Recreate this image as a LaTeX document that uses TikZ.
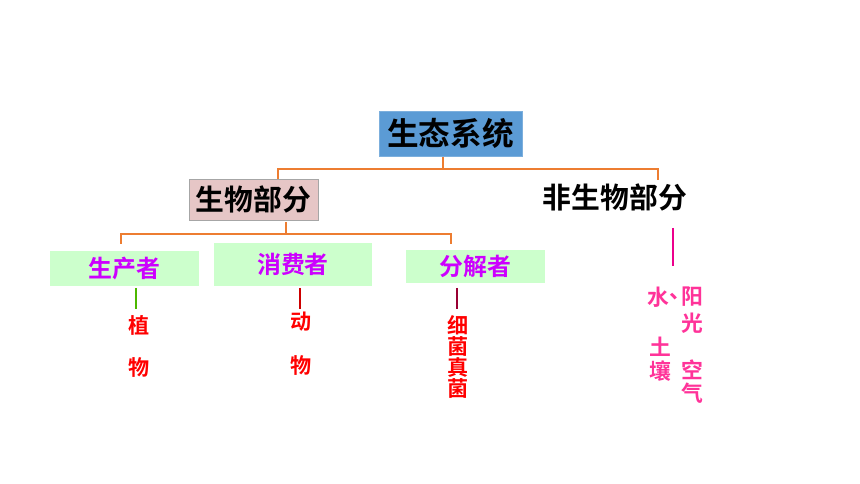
\documentclass[tikz,border=0pt]{standalone}
\usepackage{fontspec}
\setmainfont{Noto Sans CJK SC}[BoldFont={Noto Sans CJK SC Bold}]
\usetikzlibrary{calc}
\definecolor{ecoblue}{HTML}{5B9BD5}
\definecolor{linkorange}{HTML}{ED7D31}
\definecolor{biopink}{HTML}{E6C6C6}
\definecolor{kindgreen}{HTML}{CCFFCC}
\definecolor{kindviolet}{HTML}{CC00FF}
\definecolor{sunpink}{HTML}{FF3399}
\tikzset{
	link/.style={draw=linkorange, line width=1.5pt},
	kindbox/.style={fill=kindgreen, inner sep=0pt, text=kindviolet, font=\bfseries\fontsize{17}{20}\selectfont},
	leaf/.style={inner sep=0pt, text=red, font=\bfseries\fontsize{15}{17}\selectfont},
	sun/.style={inner sep=0pt, text=sunpink, font=\bfseries\fontsize{15.5}{18}\selectfont}
}

\begin{document}
\begin{tikzpicture}[x=0.025cm, y=-0.025cm]
			%%%%% START %%%%%
			\useasboundingbox (0, 0) rectangle (860, 484);
			
			\node[fill=ecoblue, draw=ecoblue!80!white, inner sep=0pt, minimum width=3.58cm, minimum height=1.13cm, font=\bfseries\fontsize{22.5}{26}\selectfont] (eco) at (450.5, 133.5) {生态系统};
			\node[fill=biopink, draw=black!35, inner sep=0pt, minimum width=3.23cm, minimum height=1.03cm, font=\bfseries\fontsize{20.5}{24}\selectfont] (bio) at (253.5, 199.5) {生物部分};
			\node[inner sep=0pt, font=\bfseries\fontsize{20.5}{24}\selectfont] (abio) at (615, 197) {非生物部分};
			
			\node[kindbox, minimum width=3.73cm, minimum height=0.88cm] (prod) at (124.5, 268.5) {生产者};
			\node[kindbox, minimum width=3.95cm, minimum height=1.08cm] (cons) at (293, 264.5) {消费者};
			\node[kindbox, minimum width=3.48cm, minimum height=0.83cm] (deco) at (475.5, 266.5) {分解者};
			
			\coordinate (ecoFoot) at (443, 157);
			\coordinate (bioHead) at (278, 179);
			\coordinate (abioHead) at (658, 180);
			\draw[link] (ecoFoot) -- ++(0, 12) coordinate (ecoJoin);
			\draw[link] (bioHead) |- (ecoJoin) -| (abioHead);
			
			\coordinate (bioFoot) at (286, 222);
			\coordinate (prodHead) at (121, 244);
			\coordinate (decoHead) at (451, 244);
			\draw[link] (bioFoot) -- ++(0, 12) coordinate (bioJoin);
			\draw[link] (prodHead) |- (bioJoin) -| (decoHead);
			
			\node[leaf] (zhi) at (139, 325) {植};
			\node[leaf] (wu1) at (139, 367) {物};
			\node[leaf] (dong) at (301, 322) {动};
			\node[leaf] (wu2) at (301, 365) {物};
			\node[leaf] (xi) at (458, 325) {细};
			\node[leaf] (jun1) at (458, 346) {菌};
			\node[leaf] (zhen) at (458, 367) {真};
			\node[leaf] (jun2) at (458, 388) {菌};
			
			\coordinate (prodFoot) at (136, 288);
			\coordinate (consFoot) at (300, 288);
			\coordinate (decoFoot) at (457, 288);
			\draw[line width=1.3pt, color=black!40!green!70!yellow] (prodFoot) -- ++(0, 21);
			\draw[line width=1.3pt, color=red!80!black] (consFoot) -- ++(0, 21);
			\draw[line width=1.3pt, color=purple!80!black] (decoFoot) -- ++(0, 21);
			
			\coordinate (abioFoot) at (673, 228);
			\draw[line width=1.3pt, color=magenta] (abioFoot) -- ++(0, 38);
			
			\node[sun, anchor=west] (shui) at (647, 297) {水\raisebox{0.3em}{、}\kern-0.6em};
			\node[sun] (tu) at (660, 347) {土};
			\node[sun] (rang) at (660, 371) {壤};
			\node[sun] (yang) at (692, 297) {阳};
			\node[sun] (guang) at (692, 323) {光};
			\node[sun] (kong) at (692, 370) {空};
			\node[sun] (qi) at (692, 393) {气};
			
			%%%%% END %%%%%
		\end{tikzpicture}
\end{document}
